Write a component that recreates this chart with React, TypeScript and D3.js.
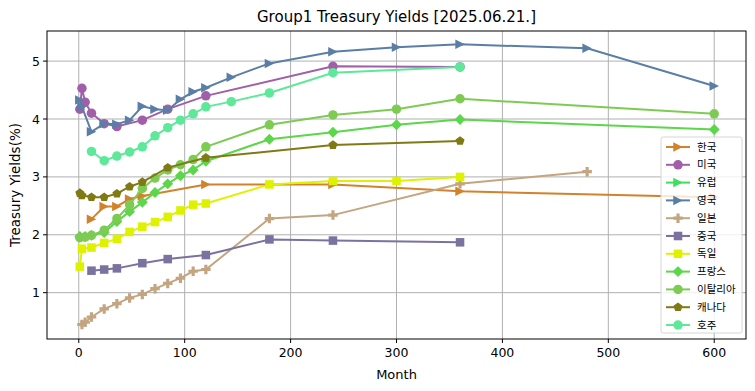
import React from 'react';
import * as d3 from 'd3';

// Maturities (months) and yields (%) per country
const krMonths = [12, 24, 36, 48, 60, 120, 240, 360, 600];
const krYields = [2.27, 2.49, 2.49, 2.62, 2.67, 2.87, 2.87, 2.75, 2.65];

const usMonths = [1, 3, 6, 12, 24, 36, 60, 84, 120, 240, 360];
const usYields = [4.17, 4.53, 4.29, 4.1, 3.92, 3.87, 3.98, 4.17, 4.4, 4.91, 4.9];

const euMonths: number[] = [];
const euYields: number[] = [];

const ukMonths = [1, 3, 12, 24, 36, 48, 60, 72, 84, 96, 108, 120, 144, 180, 240, 300, 360, 480, 600];
const ukYields = [4.33, 4.21, 3.78, 3.92, 3.91, 3.98, 4.22, 4.17, 4.15, 4.34, 4.47, 4.54, 4.72, 4.96, 5.16, 5.24, 5.29, 5.22, 4.57];

const jpMonths = [3, 6, 12, 24, 36, 48, 60, 72, 84, 96, 108, 120, 180, 240, 360, 480];
const jpYields = [0.45, 0.49, 0.58, 0.72, 0.81, 0.91, 0.97, 1.07, 1.16, 1.25, 1.37, 1.4, 2.28, 2.34, 2.88, 3.09];

const cnMonths = [12, 24, 36, 60, 84, 120, 180, 240, 360];
const cnYields = [1.38, 1.4, 1.42, 1.51, 1.58, 1.65, 1.92, 1.9, 1.87];

const deMonths = [1, 3, 12, 24, 36, 48, 60, 72, 84, 96, 108, 120, 180, 240, 300, 360];
const deYields = [1.45, 1.76, 1.78, 1.86, 1.93, 2.05, 2.14, 2.22, 2.31, 2.42, 2.52, 2.54, 2.87, 2.93, 2.93, 3.0];

const frMonths = [1, 6, 12, 24, 36, 48, 60, 72, 84, 96, 108, 120, 180, 240, 300, 360, 600];
const frYields = [1.97, 1.97, 1.99, 2.04, 2.23, 2.4, 2.56, 2.73, 2.88, 3.02, 3.12, 3.27, 3.65, 3.77, 3.9, 3.99, 3.82];

const itMonths = [1, 6, 12, 24, 36, 48, 60, 72, 84, 96, 108, 120, 180, 240, 300, 360, 600];
const itYields = [1.95, 1.96, 1.99, 2.08, 2.28, 2.52, 2.8, 2.98, 3.12, 3.21, 3.3, 3.52, 3.9, 4.07, 4.17, 4.35, 4.09];

const caMonths = [1, 3, 12, 24, 36, 48, 60, 84, 120, 240, 360];
const caYields = [2.72, 2.68, 2.65, 2.65, 2.71, 2.83, 2.91, 3.16, 3.33, 3.55, 3.62];

const auMonths = [12, 24, 36, 48, 60, 72, 84, 96, 108, 120, 144, 180, 240, 360];
const auYields = [3.44, 3.28, 3.36, 3.43, 3.52, 3.71, 3.85, 3.98, 4.09, 4.21, 4.3, 4.45, 4.8, 4.9];

const xTicks = [0, 100, 200, 300, 400, 500, 600];
const yTicks = [1, 2, 3, 4, 5];

type Marker = 'tri' | 'circle' | 'plus' | 'square' | 'diamond' | 'pentagon';

const series: { name: string; color: string; marker: Marker; months: number[]; yields: number[] }[] = [
  { name: '한국', color: '#d2822a', marker: 'tri', months: krMonths, yields: krYields },
  { name: '미국', color: '#a05fa8', marker: 'circle', months: usMonths, yields: usYields },
  { name: '유럽', color: '#3de05a', marker: 'tri', months: euMonths, yields: euYields },
  { name: '영국', color: '#5a7ea6', marker: 'tri', months: ukMonths, yields: ukYields },
  { name: '일본', color: '#c4a581', marker: 'plus', months: jpMonths, yields: jpYields },
  { name: '중국', color: '#7c72a0', marker: 'square', months: cnMonths, yields: cnYields },
  { name: '독일', color: '#def200', marker: 'square', months: deMonths, yields: deYields },
  { name: '프랑스', color: '#5cd64a', marker: 'diamond', months: frMonths, yields: frYields },
  { name: '이탈리아', color: '#7ecb54', marker: 'circle', months: itMonths, yields: itYields },
  { name: '캐나다', color: '#7f7a14', marker: 'pentagon', months: caMonths, yields: caYields },
  { name: '호주', color: '#5de89a', marker: 'circle', months: auMonths, yields: auYields },
];

const W = 755;
const H = 391;
const plot = { left: 47, right: 746, top: 31, bottom: 339 };

const x = d3.scaleLinear().domain([-30, 630]).range([plot.left, plot.right]);
const y = d3.scaleLinear().domain([0.2, 5.52]).range([plot.bottom, plot.top]);

const S = 9.5; // marker size px

function markerPath(m: Marker): string {
  const h = S / 2;
  switch (m) {
    case 'tri':
      return `M${h},0L${-h},${-h}L${-h},${h}Z`;
    case 'circle':
      return d3.symbol(d3.symbolCircle, Math.PI * h * h)() || '';
    case 'square': {
      const q = h * 0.9;
      return `M${-q},${-q}H${q}V${q}H${-q}Z`;
    }
    case 'diamond': {
      const q = h * 1.15;
      return `M0,${-q}L${q},0L0,${q}L${-q},0Z`;
    }
    case 'plus': {
      const a = h, b = h / 3;
      return `M${-b},${-a}H${b}V${-b}H${a}V${b}H${b}V${a}H${-b}V${b}H${-a}V${-b}H${-b}Z`;
    }
    case 'pentagon': {
      const pts = d3.range(5).map((i) => {
        const ang = -Math.PI / 2 + (i * 2 * Math.PI) / 5;
        return [h * Math.cos(ang), h * Math.sin(ang)];
      });
      return 'M' + pts.map((p) => p.join(',')).join('L') + 'Z';
    }
  }
  return '';
}

const line = d3
  .line<[number, number]>()
  .x((d) => x(d[0]))
  .y((d) => y(d[1]));

const font = 'DejaVu Sans, sans-serif';
const krFont = '"Noto Sans CJK KR", DejaVu Sans, sans-serif';

export default function App() {
  const legendX = 661;
  const legendY = 137;
  const rowH = 17.8;
  return (
    <svg width={W} height={H} style={{ position: 'absolute', left: 0, top: 0, background: '#fff' }}>
      <text x={(plot.left + plot.right) / 2} y={22} textAnchor="middle" fontFamily={font} fontSize={15}>
        Group1 Treasury Yields [2025.06.21.]
      </text>
      {/* grid */}
      {xTicks.map((t) => (
        <line key={'gx' + t} x1={x(t)} x2={x(t)} y1={plot.top} y2={plot.bottom} stroke="#b0b0b0" strokeWidth={1} />
      ))}
      {yTicks.map((t) => (
        <line key={'gy' + t} x1={plot.left} x2={plot.right} y1={y(t)} y2={y(t)} stroke="#b0b0b0" strokeWidth={1} />
      ))}
      {/* series */}
      {series.map((s) => {
        const pts = s.months.map((m, i) => [m, s.yields[i]] as [number, number]);
        const d = markerPath(s.marker);
        return (
          <g key={s.name}>
            {pts.length > 0 && <path d={line(pts) || ''} fill="none" stroke={s.color} strokeWidth={2} />}
            {pts.map((p, i) => (
              <path key={i} d={d} transform={`translate(${x(p[0])},${y(p[1])})`} fill={s.color} />
            ))}
          </g>
        );
      })}
      {/* frame */}
      <rect x={plot.left} y={plot.top} width={plot.right - plot.left} height={plot.bottom - plot.top} fill="none" stroke="#000" strokeWidth={1} />
      {/* ticks */}
      {xTicks.map((t) => (
        <g key={'tx' + t}>
          <line x1={x(t)} x2={x(t)} y1={plot.bottom} y2={plot.bottom + 4} stroke="#000" />
          <text x={x(t)} y={plot.bottom + 18} textAnchor="middle" fontFamily={font} fontSize={12.5}>
            {t}
          </text>
        </g>
      ))}
      {yTicks.map((t) => (
        <g key={'ty' + t}>
          <line x1={plot.left - 4} x2={plot.left} y1={y(t)} y2={y(t)} stroke="#000" />
          <text x={plot.left - 7} y={y(t) + 4.5} textAnchor="end" fontFamily={font} fontSize={12.5}>
            {t}
          </text>
        </g>
      ))}
      <text x={(plot.left + plot.right) / 2} y={379} textAnchor="middle" fontFamily={font} fontSize={13}>
        Month
      </text>
      <text transform={`translate(20,${(plot.top + plot.bottom) / 2}) rotate(-90)`} textAnchor="middle" fontFamily={font} fontSize={13.5}>
        Treasury Yields(%)
      </text>
      {/* legend */}
      <rect x={legendX} y={legendY} width={81} height={196} rx={2} fill="#fff" fillOpacity={0.8} stroke="#d6d6d6" />
      {series.map((s, i) => {
        const cy = legendY + 10 + i * rowH;
        return (
          <g key={'lg' + s.name}>
            <line x1={legendX + 5} x2={legendX + 29} y1={cy} y2={cy} stroke={s.color} strokeWidth={2} />
            <path d={markerPath(s.marker)} transform={`translate(${legendX + 17},${cy})`} fill={s.color} />
            <text x={legendX + 36} y={cy + 3.5} fontFamily={krFont} fontSize={10.5}>
              {s.name}
            </text>
          </g>
        );
      })}
    </svg>
  );
}
